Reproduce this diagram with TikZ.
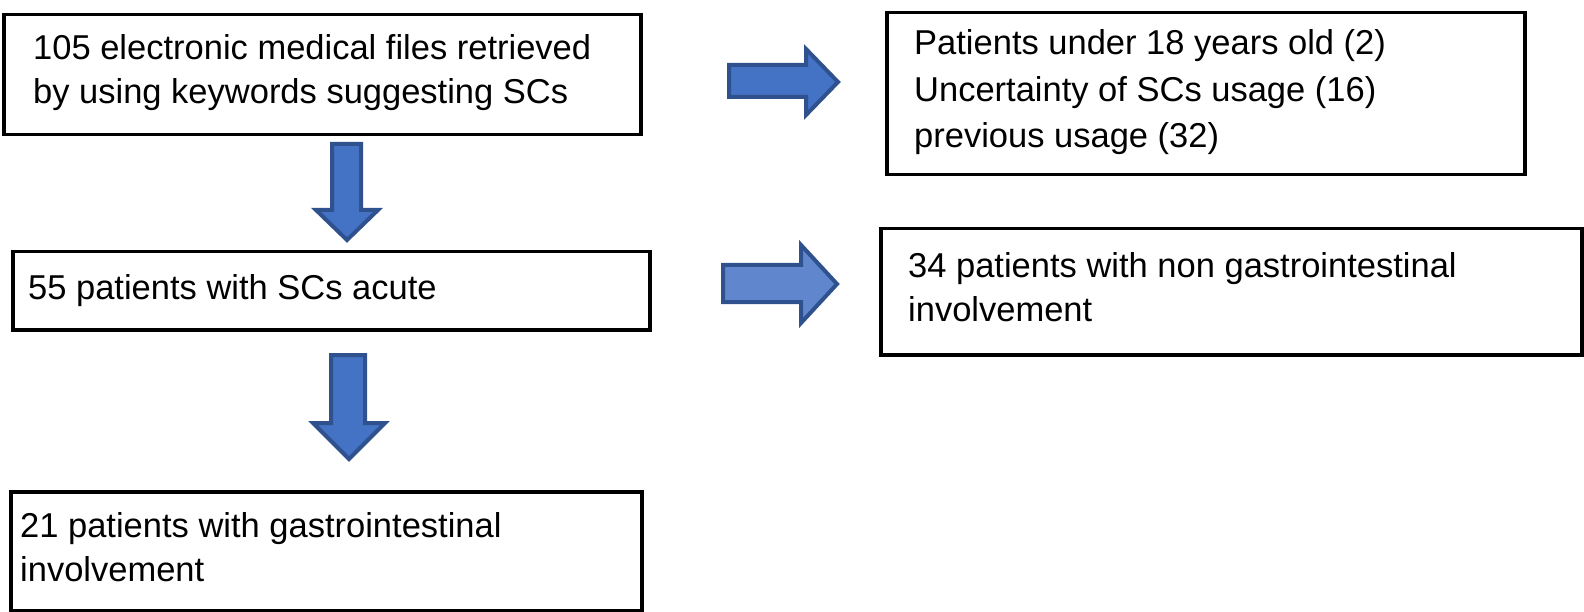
\documentclass[tikz,border=0pt]{standalone}
\usepackage{fontspec}
\setmainfont{Liberation Sans}
\definecolor{arrfill}{HTML}{4472C4}
\definecolor{arrline}{HTML}{2F528F}
\begin{document}
\begin{tikzpicture}[x=1pt,y=-1pt,
  box/.style={draw=black,line width=3.5pt,anchor=north west,inner sep=0pt},
  txt/.style={anchor=base west,inner sep=0pt,align=left,font=\fontsize{34.5}{44}\selectfont},
  blockarrow/.style={fill=arrfill,draw=arrline,line width=4pt,line join=miter}]
\useasboundingbox (0,0) rectangle (1584,612);
% boxes
\node[box,minimum width=637pt,minimum height=120pt] (b1) at (2,13) {};
\node[box,minimum width=638pt,minimum height=162pt] (b2) at (885,11) {};
\node[box,minimum width=637pt,minimum height=78pt] (b3) at (11,250) {};
\node[box,minimum width=701pt,minimum height=126pt] (b4) at (879,227) {};
\node[box,minimum width=631pt,minimum height=119pt] (b5) at (9,490) {};
% texts (anchored at the baseline of the last line)
\node[txt] (t1) at (33,104) {105 electronic medical files retrieved\\by using keywords suggesting SCs};
\node[txt,font=\fontsize{34.5}{46.5}\selectfont] (t2) at (914,148) {Patients under 18 years old (2)\\Uncertainty of SCs usage (16)\\previous usage (32)};
\node[txt] (t3) at (28,299) {55 patients with SCs acute};
\node[txt] (t4) at (908,321) {34 patients with non gastrointestinal\\involvement};
\node[txt] (t5) at (20,581) {21 patients with gastrointestinal\\involvement};
% block arrows
\draw[blockarrow] (729,65) -- (806,65) -- (806,49) -- (838,82) -- (806,115) -- (806,97) -- (729,97) -- cycle;
\draw[blockarrow] (332,144) -- (361,144) -- (361,210) -- (378,210) -- (347,240) -- (316,210) -- (332,210) -- cycle;
\draw[blockarrow,fill=arrfill!85!white] (723,265) -- (801,265) -- (801,245) -- (837,284) -- (801,323) -- (801,302) -- (723,302) -- cycle;
\draw[blockarrow] (331,355) -- (365,355) -- (365,423) -- (385,423) -- (349,459) -- (313,423) -- (331,423) -- cycle;
\end{tikzpicture}
\end{document}
